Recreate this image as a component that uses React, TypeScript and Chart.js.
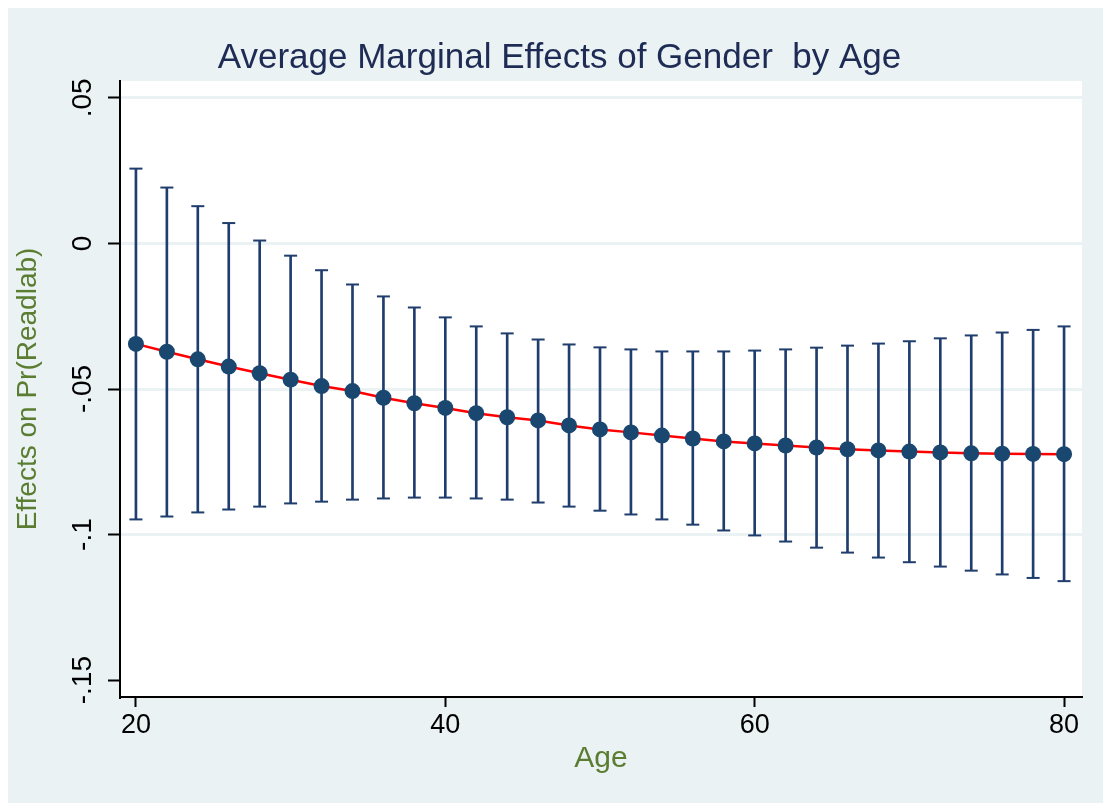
import React, { useEffect, useRef } from "react";
import { Chart, registerables } from "chart.js";

Chart.register(...registerables);

// ---- data ----
const ages = [20, 22, 24, 26, 28, 30, 32, 34, 36, 38, 40, 42, 44, 46, 48, 50, 52, 54, 56, 58, 60, 62, 64, 66, 68, 70, 72, 74, 76, 78, 80];
const effect = [-0.0345, -0.0372, -0.0398, -0.0423, -0.0446, -0.0468, -0.049, -0.0507, -0.053, -0.0549, -0.0565, -0.0583, -0.0597, -0.0608, -0.0625, -0.0639, -0.0649, -0.066, -0.067, -0.068, -0.0687, -0.0694, -0.0701, -0.0707, -0.0711, -0.0715, -0.0718, -0.0721, -0.0722, -0.0723, -0.0724];
const upper = [0.0257, 0.0192, 0.0128, 0.007, 0.001, -0.0042, -0.0092, -0.0141, -0.0182, -0.022, -0.0254, -0.0285, -0.0309, -0.033, -0.0347, -0.0357, -0.0364, -0.0371, -0.0371, -0.0371, -0.0368, -0.0364, -0.0358, -0.0351, -0.0344, -0.0336, -0.0326, -0.0316, -0.0306, -0.0297, -0.0285];
const lower = [-0.0948, -0.0938, -0.0924, -0.0914, -0.0904, -0.0893, -0.0887, -0.088, -0.0876, -0.0873, -0.0873, -0.0876, -0.088, -0.089, -0.0904, -0.0918, -0.0931, -0.0948, -0.0966, -0.0986, -0.1003, -0.1024, -0.1045, -0.1062, -0.1079, -0.1095, -0.111, -0.1124, -0.1137, -0.1149, -0.116];

const xTickValues = [20, 40, 60, 80];
const yTickValues = [0.05, 0, -0.05, -0.1, -0.15];
const yTickLabels = [".05", "0", "-.05", "-.1", "-.15"];
const yNoGridValues = [-0.15];

const titleText = "Average Marginal Effects of Gender  by Age";
const xTitle = "Age";
const yTitle = "Effects on Pr(Readlab)";

// ---- style ----
const BG = "#EAF2F3";
const NAVY = "#1a476f";
const BAR = "#1f3d6d";
const RED = "#ff0000";
const TITLE_COLOR = "#1e2b55";
const GREEN = "#5a7d32";
const FONT = "'Liberation Sans', Arial, Helvetica, sans-serif";

export default function App() {
  const canvasRef = useRef<HTMLCanvasElement | null>(null);

  useEffect(() => {
    const canvas = canvasRef.current;
    if (!canvas) return;

    const bgPlugin = {
      id: "stataBg",
      beforeDraw(chart: any) {
        const { ctx, chartArea: a, width, height } = chart;
        ctx.save();
        ctx.fillStyle = BG;
        ctx.fillRect(0, 0, width, height);
        ctx.fillStyle = "#ffffff";
        ctx.fillRect(a.left, a.top, a.right - a.left, a.bottom - a.top);
        ctx.restore();
      },
    };

    const yLabelPlugin = {
      id: "rotatedYLabels",
      afterDraw(chart: any) {
        const { ctx } = chart;
        const s = chart.scales.y;
        ctx.save();
        ctx.font = `28px ${FONT}`;
        ctx.fillStyle = "#000000";
        ctx.textAlign = "center";
        ctx.textBaseline = "alphabetic";
        yTickValues.forEach((v, i) => {
          const py = s.getPixelForValue(v);
          ctx.save();
          ctx.translate(s.right - 29, py);
          ctx.rotate(-Math.PI / 2);
          ctx.fillText(yTickLabels[i], 0, 0);
          ctx.restore();
        });
        ctx.restore();
      },
    };

    const chart = new Chart(canvas, {
      type: "scatter",
      data: {
        datasets: [
          {
            type: "line",
            label: "effect",
            data: ages.map((a, i) => ({ x: a, y: effect[i] })),
            borderColor: RED,
            borderWidth: 2.5,
            pointRadius: 8,
            pointBackgroundColor: NAVY,
            pointBorderColor: NAVY,
            pointBorderWidth: 0,
            tension: 0,
            order: 0,
          } as any,
          {
            type: "scatter",
            label: "upper cap",
            data: ages.map((a, i) => ({ x: a, y: upper[i] })),
            pointStyle: "line",
            pointRadius: 6.5,
            borderColor: BAR,
            borderWidth: 2,
            order: 1,
          } as any,
          {
            type: "scatter",
            label: "lower cap",
            data: ages.map((a, i) => ({ x: a, y: lower[i] })),
            pointStyle: "line",
            pointRadius: 6.5,
            borderColor: BAR,
            borderWidth: 2,
            order: 1,
          } as any,
          {
            type: "bar",
            label: "ci",
            data: ages.map((a, i) => ({ x: a, y: [lower[i], upper[i]] })),
            backgroundColor: BAR,
            borderWidth: 0,
            barThickness: 2,
            order: 2,
          } as any,
        ],
      },
      options: {
        animation: false,
        responsive: true,
        maintainAspectRatio: false,
        events: [],
        layout: { padding: { left: 8, right: 0, top: 0, bottom: 0 } },
        plugins: {
          legend: { display: false },
          tooltip: { enabled: false },
          title: {
            display: true,
            text: titleText,
            color: TITLE_COLOR,
            font: { family: FONT, size: 35, weight: "normal" },
            padding: { top: 28.9, bottom: 2.1 },
          },
        },
        scales: {
          x: {
            type: "linear",
            min: 18.97,
            max: 81.16,
            offset: false,
            afterFit(s: any) {
              s.height = 106;
            },
            afterBuildTicks(s: any) {
              s.ticks = xTickValues.map((v) => ({ value: v }));
            },
            grid: {
              display: true,
              offset: false,
              drawOnChartArea: false,
              drawTicks: true,
              tickLength: 10,
              tickColor: "#000000",
              tickWidth: 2,
            },
            border: { display: true, color: "#000000", width: 2 },
            ticks: {
              color: "#000000",
              font: { family: FONT, size: 27 },
              padding: 2,
              maxRotation: 0,
              minRotation: 0,
              callback: (v: any) => String(v),
            },
            title: {
              display: true,
              text: xTitle,
              color: GREEN,
              font: { family: FONT, size: 30 },
              padding: { top: 0, bottom: 26 },
            },
          },
          y: {
            type: "linear",
            position: "left",
            min: -0.1558,
            max: 0.0558,
            beginAtZero: false,
            afterFit(s: any) {
              s.width = 104;
            },
            afterBuildTicks(s: any) {
              s.ticks = yTickValues.map((v) => ({ value: v }));
            },
            grid: {
              display: true,
              drawOnChartArea: true,
              drawTicks: true,
              tickLength: 12,
              tickColor: "#000000",
              tickWidth: 2,
              lineWidth: 3,
              color: (c: any) =>
                c.tick && yNoGridValues.some((v) => Math.abs(v - c.tick.value) < 1e-9)
                  ? "rgba(0,0,0,0)"
                  : BG,
            },
            border: { display: true, color: "#000000", width: 2 },
            ticks: { display: false },
            title: {
              display: true,
              text: yTitle,
              color: GREEN,
              font: { family: FONT, size: 28 },
              padding: { top: -4.3, bottom: 0 },
            },
          },
          y2: {
            type: "linear",
            position: "right",
            display: true,
            min: -0.1558,
            max: 0.0558,
            afterFit(s: any) {
              s.width = 21;
            },
            grid: { display: false },
            border: { display: false },
            ticks: { display: false },
          },
        },
      } as any,
      plugins: [bgPlugin, yLabelPlugin],
    });

    return () => {
      chart.destroy();
    };
  }, []);

  return (
    <div style={{ position: "absolute", left: 8, top: 8, width: 1095, height: 795 }}>
      <canvas ref={canvasRef} />
    </div>
  );
}
